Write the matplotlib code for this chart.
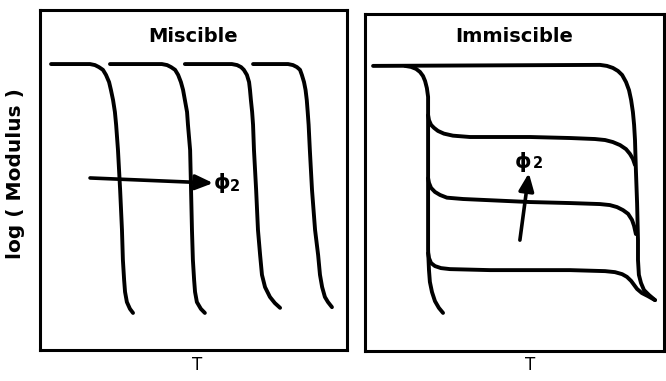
import matplotlib.pyplot as plt

plt.rcParams['font.family'] = ['DejaVu Sans']

# Miscible blend: one glass transition that moves with composition
# (temperature and log modulus in arbitrary units, 0-100 across each frame)
mis_M = [84.1, 84.1, 83.8, 83.2, 82.4, 80.9, 78.8, 76.5, 73.5, 70.0,
         66.2, 58.8, 47.1, 35.3, 26.5, 20.6, 17.1, 14.1, 12.1, 10.9]
mis_T1 = [3.6, 16.3, 17.9, 19.2, 20.5, 21.5, 22.5, 23.1, 23.8, 24.4,
          24.8, 25.4, 26.1, 26.7, 27.0, 27.4, 27.7, 28.3, 29.3, 30.3]
mis_T2 = [22.8, 39.7, 41.4, 42.7, 44.0, 45.0, 45.9, 46.6, 47.2, 47.9,
          48.2, 48.9, 49.2, 49.5, 49.8, 50.2, 50.5, 51.1, 52.4, 53.7]
mis_M3 = [84.1, 84.1, 83.8, 83.2, 82.4, 80.9, 78.8, 76.5, 73.5, 70.0,
          66.2, 58.8, 47.1, 35.3, 27.9, 22.1, 18.5, 15.6, 13.8, 12.4]
mis_T3 = [47.2, 62.5, 64.2, 65.5, 66.4, 67.4, 68.1, 68.4, 68.7, 69.1,
          69.4, 69.7, 70.4, 71.0, 71.7, 72.3, 73.3, 74.9, 76.5, 78.2]
mis_M4 = [84.1, 84.1, 83.8, 83.2, 82.4, 80.9, 78.8, 76.5, 73.5, 70.0,
          66.2, 58.8, 47.1, 35.3, 27.9, 22.1, 18.5, 15.6, 14.1, 12.6]
mis_T4 = [69.4, 80.8, 82.4, 83.7, 84.7, 85.3, 86.0, 86.5, 86.9, 87.2,
          87.5, 87.9, 88.6, 89.6, 90.6, 91.2, 91.9, 92.8, 93.8, 95.1]

# Immiscible blend: two transitions with a plateau set by composition
top_T = [2.7, 78.6, 80.9, 82.9, 84.6, 86.0, 87.3, 88.3, 89.0, 89.6, 90.0,
         90.3, 90.6, 91.0, 91.3, 91.3, 91.6, 92.3, 93.3, 95.0, 97.0]
top_M = [84.6, 84.9, 84.6, 84.0, 83.1, 81.9, 79.8, 77.4, 74.5, 70.9, 67.1,
         62.6, 53.7, 43.9, 32.9, 27.0, 22.6, 20.2, 18.1, 16.6, 15.1]
low_T = [13.4, 15.4, 17.1, 18.4, 19.4, 20.1, 20.7, 21.1, 21.1, 21.1, 21.1,
         21.4, 21.7, 22.4, 23.4, 24.7, 26.1]
low_M = [84.6, 84.3, 83.7, 82.8, 81.6, 80.1, 78.0, 75.4, 69.4, 44.8, 30.0,
         24.0, 20.5, 17.5, 14.8, 12.8, 11.3]
pl1_T = [21.1, 21.4, 22.1, 23.1, 24.4, 26.4, 29.4, 35.1, 55.2, 68.6, 76.9,
         80.3, 82.9, 85.3, 87.3, 88.6, 89.6, 90.3]
pl1_M = [70.0, 68.5, 67.1, 66.2, 65.3, 64.5, 63.9, 63.5, 63.5, 63.2, 62.9,
         62.6, 62.0, 61.1, 59.9, 58.5, 57.0, 55.2]
pl2_T = [21.1, 21.4, 22.1, 23.4, 25.1, 27.4, 32.8, 55.2, 68.6, 78.6, 81.9,
         84.3, 86.3, 88.0, 89.3, 90.0, 90.6]
pl2_M = [51.3, 49.9, 48.4, 47.2, 46.3, 45.5, 45.1, 44.2, 43.9, 43.6, 43.3,
         42.7, 41.8, 40.7, 38.9, 37.1, 34.7]
pl3_T = [21.1, 21.4, 22.1, 23.4, 25.4, 28.4, 41.8, 68.6, 80.3, 83.6, 86.0,
         87.6, 89.0, 90.0, 91.0, 92.6, 94.6, 97.0]
pl3_M = [29.1, 27.6, 26.1, 25.2, 24.6, 24.3, 24.0, 24.0, 23.7, 23.4, 22.8,
         22.0, 20.8, 19.6, 18.4, 17.2, 16.3, 15.1]

# composition arrows (tail, tip) and where the phi_2 labels sit
mis_arrow = [(16.3, 50.6), (56.4, 49.1)]
mis_phi, mis_sub = (59.3, 49.1), (63.5, 48.2)
imm_arrow = [(51.8, 32.9), (54.8, 52.8)]
imm_phi, imm_sub = (52.8, 56.1), (57.9, 55.5)

fig = plt.figure(figsize=(6.66, 3.81), dpi=100)
ax1 = fig.add_axes([40 / 666, 31 / 381, 307 / 666, 340 / 381])
ax2 = fig.add_axes([365 / 666, 30 / 381, 299 / 666, 337 / 381])

lw = 2.8
for T, M in [(mis_T1, mis_M), (mis_T2, mis_M), (mis_T3, mis_M3), (mis_T4, mis_M4)]:
    ax1.plot(T, M, c='k', lw=lw, solid_capstyle='round', solid_joinstyle='round')
for T, M in [(top_T, top_M), (low_T, low_M), (pl1_T, pl1_M), (pl2_T, pl2_M), (pl3_T, pl3_M)]:
    ax2.plot(T, M, c='k', lw=lw, solid_capstyle='round', solid_joinstyle='round')

arrow = dict(arrowstyle='-|>,head_length=0.7,head_width=0.3', lw=2.6, color='k',
             mutation_scale=15, shrinkA=0, shrinkB=0)
for ax, (tail, tip), phi, sub in [(ax1, mis_arrow, mis_phi, mis_sub),
                                  (ax2, imm_arrow, imm_phi, imm_sub)]:
    ax.annotate('', xy=tip, xytext=tail, arrowprops=arrow)
    ax.text(*phi, 'ϕ', fontsize=15, fontweight='bold', ha='center', va='center')
    ax.text(*sub, '2', fontsize=10.5, fontweight='bold', ha='center', va='center')

for ax, title, ty, tpos in [(ax1, 'Miscible', 0.921, (0.511, -0.044)),
                            (ax2, 'Immiscible', 0.932, (0.552, -0.042))]:
    ax.set_xlim(0, 100)
    ax.set_ylim(0, 100)
    ax.set_xticks([])
    ax.set_yticks([])
    for s in ax.spines.values():
        s.set_linewidth(2.2)
    ax.text(0.5, ty, title, transform=ax.transAxes, ha='center', va='center',
            fontsize=14, fontweight='bold')
    ax.text(*tpos, 'T', transform=ax.transAxes, ha='center', va='center', fontsize=12)

ax1.set_ylabel('log ( Modulus )', fontsize=14.5, fontweight='bold')
ax1.yaxis.set_label_coords(-0.049, 0.52)

fig.savefig('out.png', dpi=100)
